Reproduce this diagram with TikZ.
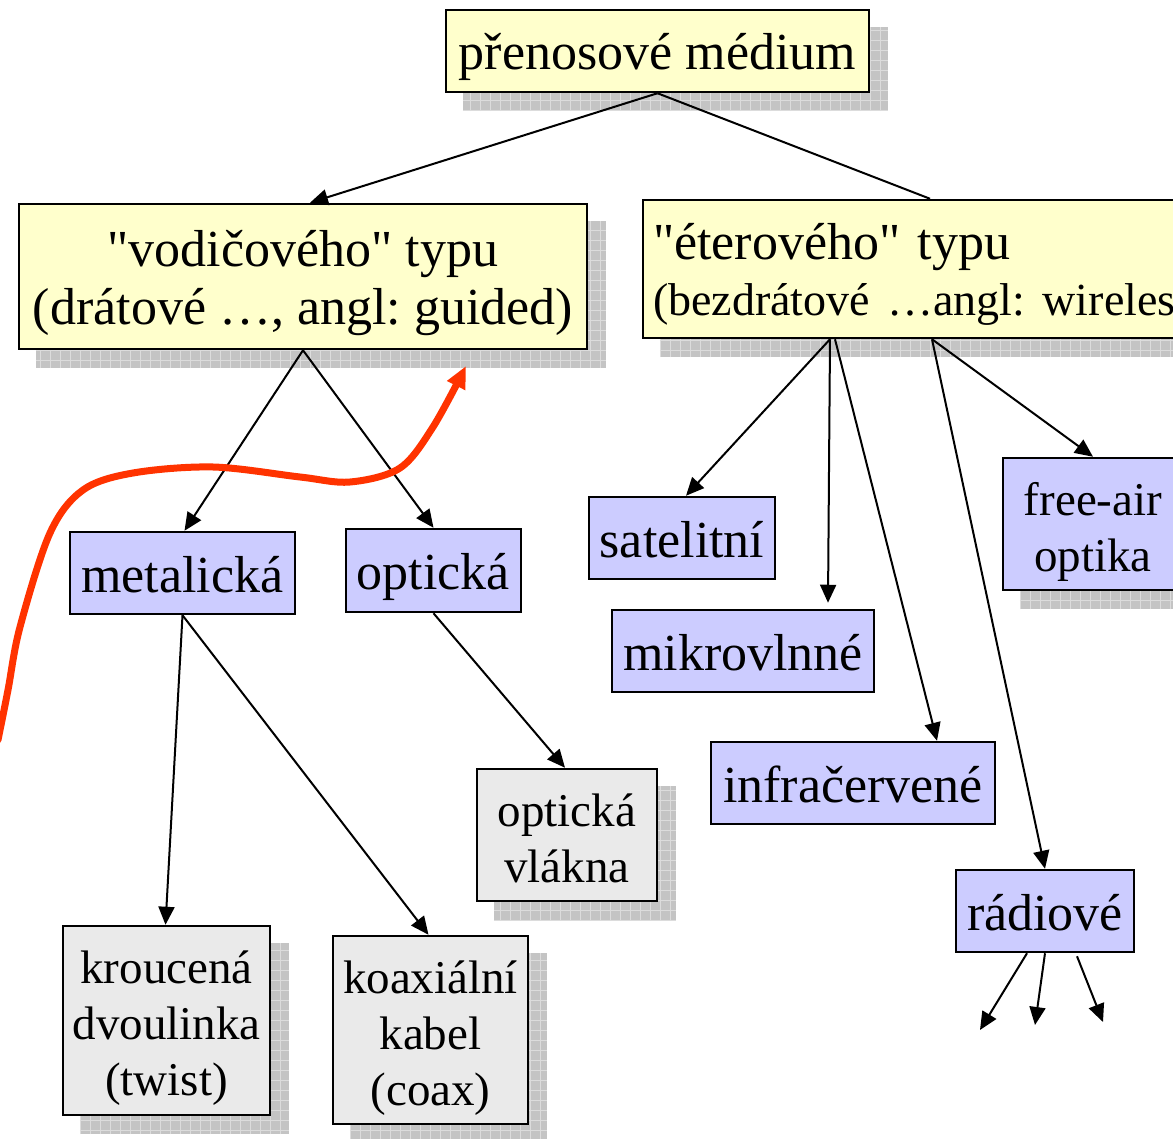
\documentclass[tikz,border=0pt]{standalone}
\usepackage{fontspec}
\setmainfont{Liberation Serif}
\usetikzlibrary{arrows.meta}
\pgfdeclarelayer{bottom}
\pgfdeclarelayer{background}
\pgfsetlayers{bottom,background,main}
\definecolor{yel}{HTML}{FFFFCC}
\definecolor{blu}{HTML}{CCCCFF}
\definecolor{gry}{HTML}{EAEAEA}
\definecolor{shd}{HTML}{C4C4C4}
\definecolor{shdgrid}{HTML}{DCDCDC}
\definecolor{redline}{HTML}{FF3300}
\newcommand\tstrut{\rule{0pt}{50pt}}
\newcommand\bstrut{\rule[-12pt]{0pt}{0pt}}
\newcommand\qq{\textquotedbl}
\newcommand\boxshade[1]{%
  \begin{pgfonlayer}{background}
    \begin{scope}
      \clip ([shift={(18pt,-18pt)}]#1.south west) rectangle ([shift={(18pt,-18pt)}]#1.north east);
      \fill[shd] ([shift={(18pt,-18pt)}]#1.south west) rectangle ([shift={(18pt,-18pt)}]#1.north east);
      \draw[shdgrid, line width=0.8pt, step=10pt] ([shift={(18pt,-18pt)}]#1.south west) grid ([shift={(18pt,-18pt)}]#1.north east);
    \end{scope}
  \end{pgfonlayer}}
\tikzset{
  box/.style={draw=black, line width=2.5pt, inner sep=0pt, align=center,
    font=\frenchspacing\fontsize{52}{56}\selectfont},
  small/.style={font=\frenchspacing\fontsize{47}{56}\selectfont},
  ybox/.style={box, fill=yel},
  bbox/.style={box, fill=blu},
  gbox/.style={box, fill=gry, small},
  arr/.style={line width=2pt, -{Triangle[length=18pt,width=16pt]}},
  plain/.style={line width=2pt},
  redarr/.style={draw=redline, line width=7pt, line cap=round,
    -{Triangle[length=22pt,width=19pt]}}
}
\begin{document}
\begin{tikzpicture}[x=1pt,y=-1pt]
\useasboundingbox (0,0) rectangle (1173,1139);
\clip (0,0) rectangle (1173,1139);
\begin{pgfonlayer}{bottom}
\fill[white] (0,0) rectangle (1173,1139);
\end{pgfonlayer}

% top level
\node[ybox, minimum width=423pt, minimum height=82pt] (top) at (657.5,51) {\tstrut přenosové médium\bstrut};

% second level
\node[ybox, minimum width=568pt, minimum height=145pt, font=\frenchspacing\fontsize{52}{58}\selectfont] (vod) at (303,276.5)
  {\tstrut\qq vodičového\qq{} typu\\(drátové …, angl: guided)\bstrut};
\node[ybox, align=left, inner xsep=10pt, text width=560pt, minimum height=138pt] (eter) at (933,269)
  {\tstrut\qq éterového\qq{} typu\\{\fontsize{46}{50}\selectfont (bezdrátové …angl: wireles\bstrut}};

% guided
\node[bbox, minimum width=225pt, minimum height=82pt] (met) at (182.5,573) {\tstrut metalická\bstrut};
\node[bbox, minimum width=175pt, minimum height=83pt] (opt) at (433.5,570.5) {\tstrut optická\bstrut};
\node[gbox, minimum width=180pt, minimum height=132pt] (vla) at (567,835) {\tstrut optická\\vlákna\bstrut};
\node[gbox, minimum width=207pt, minimum height=189pt] (kro) at (166.5,1020.5) {\tstrut kroucená\\dvoulinka\\(twist)\bstrut};
\node[gbox, minimum width=195pt, minimum height=188pt] (koa) at (430.5,1030) {\tstrut koaxiální\\kabel\\(coax)\bstrut};

% wireless
\node[bbox, minimum width=186pt, minimum height=82pt] (sat) at (682,538) {\tstrut satelitní\bstrut};
\node[bbox, minimum width=262pt, minimum height=82pt] (mik) at (743,651) {\tstrut mikrovlnné\bstrut};
\node[bbox, minimum width=284pt, minimum height=82pt] (inf) at (853,783) {\tstrut infračervené\bstrut};
\node[bbox, small, minimum width=180pt, minimum height=132pt] (fre) at (1093,524) {\tstrut free-air\\optika\bstrut};
\node[bbox, minimum width=178pt, minimum height=82pt] (rad) at (1045,911) {\tstrut rádiové\bstrut};

% shadows
\boxshade{top}
\boxshade{vod}
\boxshade{eter}
\boxshade{vla}
\boxshade{kro}
\boxshade{koa}
\boxshade{fre}

% connectors
\draw[arr] (top.south) -- ([xshift=7pt]vod.north);
\draw[plain] (top.south) -- ([xshift=-3pt]eter.north);

\draw[arr] (vod.south) -- ([xshift=2pt]met.north);
\draw[arr] (vod.south) -- (opt.north);
\draw[arr] (met.south) -- ([xshift=-1pt]kro.north);
\draw[arr] (met.south) -- ([xshift=-2pt]koa.north);
\draw[arr] (opt.south) -- ([xshift=-2pt]vla.north);

\coordinate (e1) at ([xshift=-103pt]eter.south);
\coordinate (e2) at ([xshift=-98pt]eter.south);
\coordinate (e3) at ([xshift=-1pt]eter.south);
\draw[arr] (e1) -- ([xshift=4pt]sat.north);
\draw[arr] (e1) -- ([xshift=85pt,yshift=6pt]mik.north);
\draw[arr] (e2) -- ([xshift=84pt]inf.north);
\draw[arr] (e3) -- (rad.north);
\draw[arr] (e3) -- (fre.north);

\coordinate (r1) at (980,1030);
\coordinate (r2) at (1035,1025);
\coordinate (r3) at (1103,1022);
\draw[arr] ([xshift=-18pt]rad.south) -- (r1);
\draw[arr] (rad.south) -- (r2);
\draw[arr] ([xshift=32pt,yshift=-3pt]rad.south) -- (r3);

% red curve
\draw[redarr] plot[smooth, tension=0.55] coordinates
  {(-2,740) (8,690) (20,627) (50,533) (83,490) (133,473) (213,467) (300,477) (350,482) (400,468) (433,427) (466,366)};
\end{tikzpicture}
\end{document}
